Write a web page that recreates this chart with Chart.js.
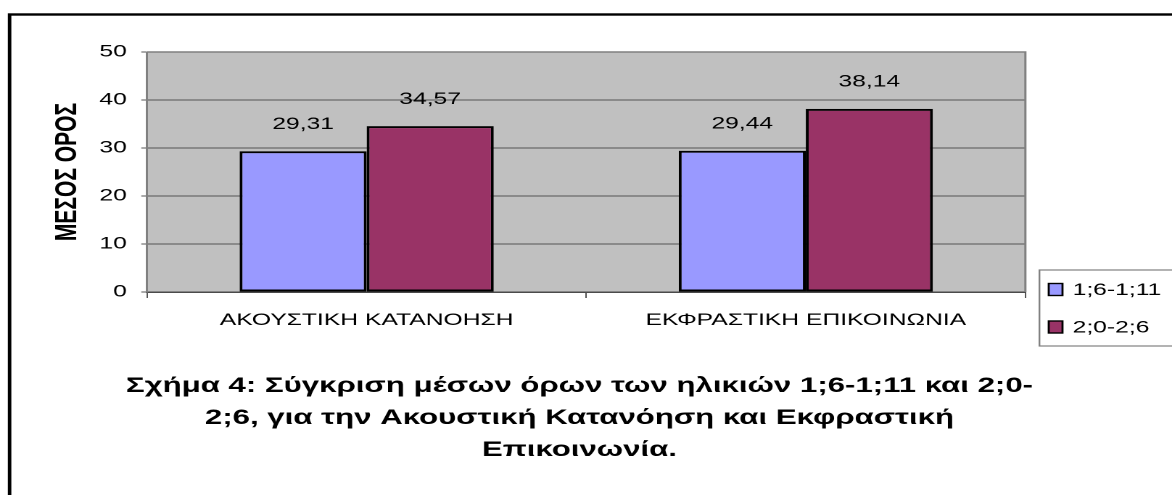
<!DOCTYPE html>
<html>
<head>
<meta charset="utf-8">
<script src="https://cdn.jsdelivr.net/npm/chart.js@4.4.1/dist/chart.umd.min.js"></script>
<style>
  html, body { margin: 0; padding: 0; background: #ffffff; overflow: hidden; }
  #wrap { position: absolute; left: 0; top: 0; width: 808px; height: 495px; transform: scaleX(1.4505); transform-origin: 0 0; }
</style>
</head>
<body>
<div id="wrap"><canvas id="c"></canvas></div>
<script>
// ---- data ----
const categories = ['ΑΚΟΥΣΤΙΚΗ ΚΑΤΑΝΟΗΣΗ', 'ΕΚΦΡΑΣΤΙΚΗ ΕΠΙΚΟΙΝΩΝΙΑ'];
const seriesNames = ['1;6-1;11', '2;0-2;6'];
const seriesA = [29.31, 29.44];
const seriesB = [34.57, 38.14];
const yMin = 0;
const yMax = 50;
const yStep = 10;
const yTitle = 'ΜΕΣΟΣ ΟΡΟΣ';
const captionLines = [
  'Σχήμα 4: Σύγκριση μέσων όρων των ηλικιών 1;6-1;11 και 2;0-',
  '2;6, για την Ακουστική Κατανόηση και Εκφραστική',
  'Επικοινωνία.'
];

const FONT = "'Liberation Sans', Arial, sans-serif";
const colors = ['#9999FF', '#993366'];

const decor = {
  id: 'decor',
  beforeDraw(chart) {
    const { ctx, chartArea: a } = chart;
    ctx.save();
    ctx.fillStyle = '#ffffff';
    ctx.fillRect(0, 0, chart.width, chart.height);
    ctx.fillStyle = '#C0C0C0';
    ctx.fillRect(a.left, a.top, a.right - a.left, a.bottom - a.top);
    ctx.restore();
  },
  afterDatasetsDraw(chart) {
    const { ctx } = chart;
    ctx.save();
    ctx.font = '17px ' + FONT;
    ctx.fillStyle = '#000';
    ctx.textAlign = 'center';
    ctx.textBaseline = 'middle';
    chart.data.datasets.forEach((ds, i) => {
      const meta = chart.getDatasetMeta(i);
      meta.data.forEach((bar, j) => {
        const txt = ds.data[j].toFixed(2).replace('.', ',');
        ctx.fillText(txt, bar.x, bar.y - 27);
      });
    });
    ctx.restore();
  },
  afterDraw(chart) {
    const { ctx, chartArea: a } = chart;
    ctx.save();
    // plot area border (top/right)
    ctx.strokeStyle = '#808080';
    ctx.lineWidth = 1.5;
    ctx.beginPath();
    ctx.moveTo(a.left, a.top);
    ctx.lineTo(a.right, a.top);
    ctx.lineTo(a.right, a.bottom);
    ctx.stroke();

    // outer frame
    ctx.strokeStyle = '#000';
    ctx.lineWidth = 2.4;
    ctx.strokeRect(6.6, 14.5, chart.width + 20, chart.height + 20);

    // legend
    const lx = 716.6, ly = 270, lw = chart.width - lx + 10, lh = 76;
    ctx.strokeStyle = '#808080';
    ctx.lineWidth = 1.2;
    ctx.fillStyle = '#fff';
    ctx.fillRect(lx, ly, lw, lh);
    ctx.strokeRect(lx, ly, lw, lh);
    ctx.font = '17px ' + FONT;
    ctx.textAlign = 'left';
    ctx.textBaseline = 'middle';
    const rows = [289.5, 327];
    chart.data.datasets.forEach((ds, i) => {
      const cy = rows[i];
      ctx.fillStyle = ds.backgroundColor;
      ctx.fillRect(723, cy - 6, 9.5, 12);
      ctx.strokeStyle = '#000';
      ctx.lineWidth = 1.4;
      ctx.strokeRect(723, cy - 6, 9.5, 12);
      ctx.fillStyle = '#000';
      ctx.fillText(ds.label, 739.5, cy + 1);
    });

    // caption
    ctx.font = 'bold 21.5px ' + FONT;
    ctx.fillStyle = '#000';
    ctx.textAlign = 'center';
    ctx.textBaseline = 'middle';
    const cys = [386, 418, 450];
    captionLines.forEach((t, i) => ctx.fillText(t, 399.5, cys[i]));
    ctx.restore();
  }
};

new Chart(document.getElementById('c'), {
  type: 'bar',
  data: {
    labels: categories,
    datasets: [
      { label: seriesNames[0], data: seriesA, backgroundColor: colors[0], borderColor: '#000', borderWidth: 2, borderSkipped: false, categoryPercentage: 0.5787, barPercentage: 1.0 },
      { label: seriesNames[1], data: seriesB, backgroundColor: colors[1], borderColor: '#000', borderWidth: 2, borderSkipped: false, categoryPercentage: 0.5787, barPercentage: 1.0 }
    ]
  },
  options: {
    responsive: true,
    maintainAspectRatio: false,
    animation: false,
    devicePixelRatio: 2,
    layout: { padding: { top: 52, right: 101.1, bottom: 163, left: 0 } },
    plugins: { legend: { display: false }, tooltip: { enabled: false }, title: { display: false } },
    scales: {
      x: {
        afterFit(s) { s.height = 40; },
        grid: { display: true, drawOnChartArea: false, drawTicks: true, tickLength: 6, color: '#555555', offset: true },
        border: { display: true, color: '#4a4a4a', width: 1.5 },
        ticks: { color: '#000', font: { family: FONT, size: 17 }, padding: 12, maxRotation: 0, autoSkip: false }
      },
      y: {
        min: yMin, max: yMax,
        afterFit(s) { s.width = 101.4; },
        grid: { color: '#555555', lineWidth: 1, tickLength: 4, drawTicks: true },
        border: { display: true, color: '#808080', width: 1.5 },
        ticks: { stepSize: yStep, color: '#000', font: { family: FONT, size: 17 }, padding: 10 },
        title: { display: true, text: yTitle, color: '#000', font: { family: FONT, size: 21, weight: 'bold' }, padding: { top: 34, bottom: 0 } }
      }
    }
  },
  plugins: [decor]
});
</script>
</body>
</html>
